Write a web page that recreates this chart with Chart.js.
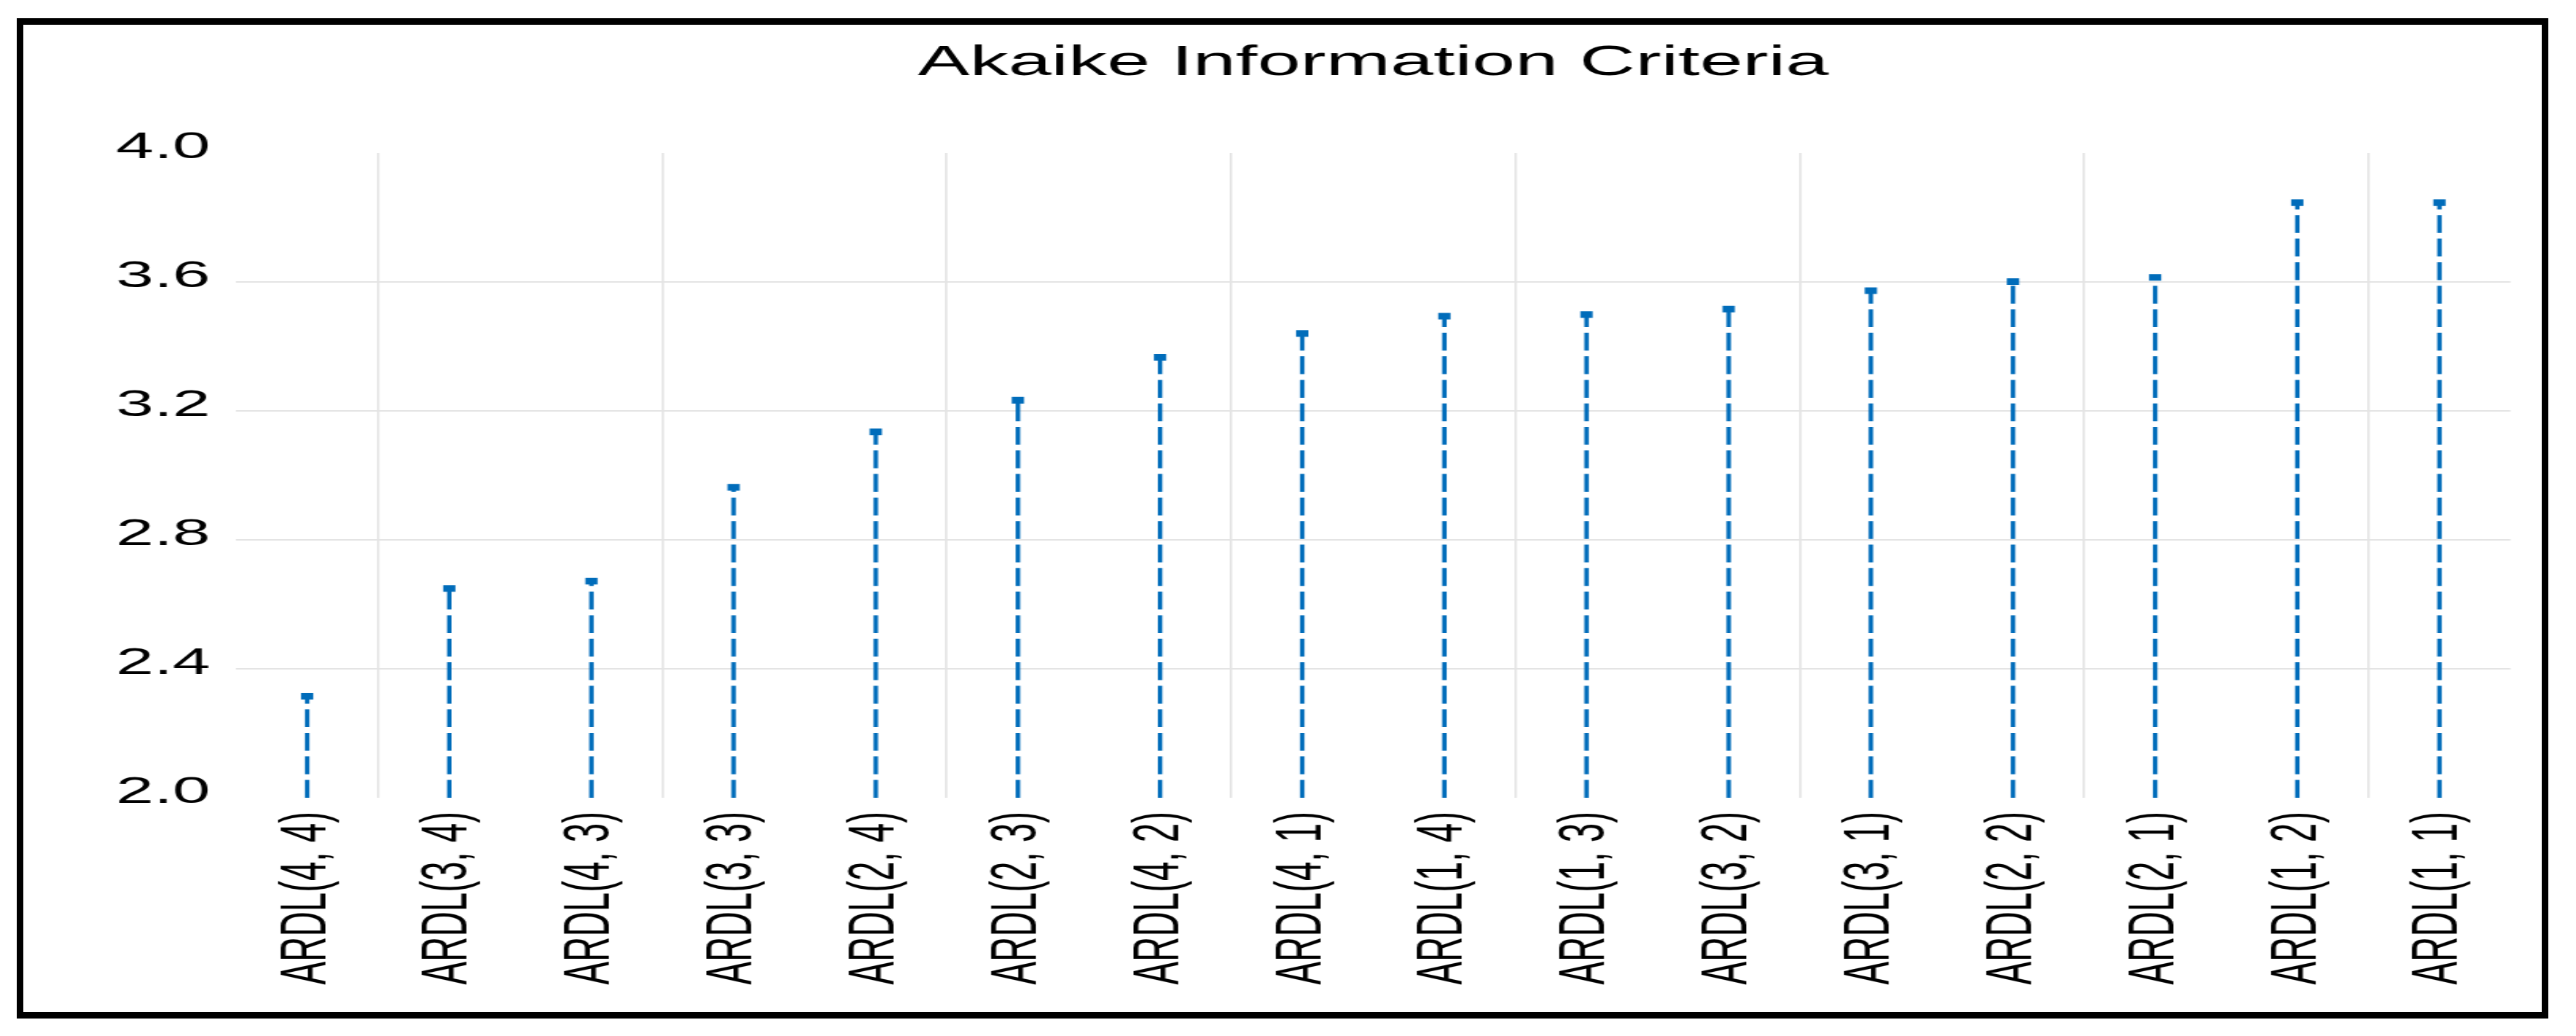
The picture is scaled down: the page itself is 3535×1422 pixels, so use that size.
<!DOCTYPE html>
<html>
<head>
<meta charset="utf-8">
<script src="https://cdn.jsdelivr.net/npm/chart.js@4.4.1/dist/chart.umd.min.js"></script>
<style>
  html, body { margin: 0; padding: 0; background: #ffffff; width: 3535px; height: 1422px; overflow: hidden; }
  #wrap { position: absolute; left: 0; top: 0; width: 1900px; height: 1422px;
          transform: scaleX(1.860526); transform-origin: 0 0; }
  #frame { position: absolute; left: 23px; top: 25px; width: 3474px; height: 1373px;
           border: 9px solid #000; box-sizing: border-box; pointer-events: none; }
</style>
</head>
<body>
<div id="wrap"><canvas id="chart" width="1900" height="1422" style="width:1900px;height:1422px;display:block;"></canvas></div>
<div id="frame"></div>
<script>
// ---- data ----
const chartTitle = 'Akaike Information Criteria';
const categories = ['ARDL(4, 4)', 'ARDL(3, 4)', 'ARDL(4, 3)', 'ARDL(3, 3)', 'ARDL(2, 4)', 'ARDL(2, 3)',
                    'ARDL(4, 2)', 'ARDL(4, 1)', 'ARDL(1, 4)', 'ARDL(1, 3)', 'ARDL(3, 2)', 'ARDL(3, 1)',
                    'ARDL(2, 2)', 'ARDL(2, 1)', 'ARDL(1, 2)', 'ARDL(1, 1)'];
const aicValues = [2.315, 2.649, 2.672, 2.963, 3.135, 3.233, 3.366, 3.440,
                   3.494, 3.499, 3.516, 3.573, 3.601, 3.614, 3.846, 3.846];
const stemBase = 2.0;
const yTickValues = [2.0, 2.4, 2.8, 3.2, 3.6, 4.0];
const yTickLabels = ['2.0', '2.4', '2.8', '3.2', '3.6', '4.0'];

// ---- styling ----
const stemColor = 'rgb(0,108,186)';
const gridColor = '#e4e4e4';
const fontFamily = "'Liberation Sans', Arial, sans-serif";

const datasets = categories.map((cat, i) => ({
  label: cat,
  data: [{ x: cat, y: stemBase }, { x: cat, y: aicValues[i] }],
  borderColor: stemColor,
  borderWidth: 3.3,
  borderDash: [24.5, 7.8],
  borderCapStyle: 'butt',
  fill: false,
  tension: 0,
  pointStyle: 'rect',
  pointRadius: (ctx) => (ctx.dataIndex === 1 ? 6.4 : 0),
  pointHoverRadius: (ctx) => (ctx.dataIndex === 1 ? 6.4 : 0),
  pointBackgroundColor: stemColor,
  pointBorderColor: stemColor,
  pointBorderWidth: 0
}));

const lo = yTickValues[0], hi = yTickValues[yTickValues.length - 1];

new Chart(document.getElementById('chart'), {
  type: 'line',
  data: { labels: categories, datasets: datasets },
  options: {
    responsive: false,
    animation: false,
    devicePixelRatio: 1,
    events: [],
    layout: { padding: { top: 53, right: 48.3, bottom: 0, left: 0 } },
    plugins: {
      legend: { display: false },
      tooltip: { enabled: false },
      title: {
        display: true,
        text: chartTitle,
        fullSize: false,
        color: '#000',
        font: { family: fontFamily, size: 57, weight: 'normal', lineHeight: 1.2 },
        padding: { top: 0, bottom: 88.6 }
      }
    },
    scales: {
      x: {
        type: 'category',
        offset: true,
        border: { display: false },
        grid: {
          offset: true,
          drawTicks: false,
          lineWidth: 1.7,
          color: (ctx) => (typeof ctx.index === 'number' && ctx.index % 2 === 1) ? gridColor : 'rgba(0,0,0,0)'
        },
        ticks: {
          autoSkip: false,
          maxRotation: 90,
          minRotation: 90,
          padding: 19,
          color: '#000',
          font: { family: fontFamily, size: 47.5 }
        },
        afterFit: (s) => { s.height = 1422 - 1095; }
      },
      y: {
        min: lo,
        max: hi,
        border: { display: false },
        grid: {
          drawTicks: false,
          lineWidth: 2,
          color: (ctx) => (ctx.tick && ctx.tick.value > lo + 1e-9 && ctx.tick.value < hi - 1e-9) ? gridColor : 'rgba(0,0,0,0)'
        },
        afterBuildTicks: (s) => { s.ticks = yTickValues.map(v => ({ value: v })); },
        ticks: {
          padding: 19,
          labelOffset: -7,
          color: '#000',
          font: { family: fontFamily, size: 50 },
          callback: (v, i) => yTickLabels[i]
        },
        afterFit: (s) => { s.width = 174.1; }
      }
    }
  }
});
</script>
</body>
</html>
